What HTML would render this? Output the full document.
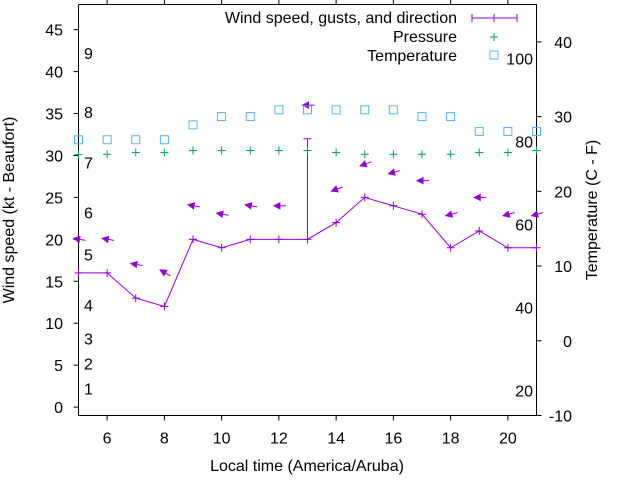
<!DOCTYPE html>
<html><head><meta charset="utf-8"><style>
body{margin:0;background:#fff}
svg text{font-family:"Liberation Sans",sans-serif;font-size:16px;fill:#000}
</style></head><body>
<svg id="chart" width="640" height="480" xmlns="http://www.w3.org/2000/svg">
<g id="axes"></g>
<g id="series"></g>
<text x="14" y="210" text-anchor="middle" transform="rotate(-90 14 210)">Wind speed (kt - Beaufort)</text>
<text x="597" y="210" text-anchor="middle" transform="rotate(-90 597 210)">Temperature (C - F)</text>
<text x="307" y="471" text-anchor="middle">Local time (America/Aruba)</text>
<g>
<text x="457" y="23" text-anchor="end">Wind speed, gusts, and direction</text>
<g stroke="#9400d3"><line x1="472" y1="18" x2="517" y2="18"/><line x1="472" y1="14" x2="472" y2="22"/><line x1="517" y1="14" x2="517" y2="22"/><line x1="494" y1="14" x2="494" y2="22"/></g>
<text x="457" y="42" text-anchor="end">Pressure</text>
<g stroke="#009e73"><line x1="490" y1="37" x2="498" y2="37"/><line x1="494" y1="33" x2="494" y2="41"/></g>
<text x="457" y="61" text-anchor="end">Temperature</text>
<rect x="490" y="51" width="8" height="8" fill="none" stroke="#56b4e9"/>
</g>
</svg>
<script>
const hours=[5,6,7,8,9,10,11,12,13,14,15,16,17,18,19,20,21];
const windSpeed=[16,16,13,12,20,19,20,20,20,22,25,24,23,19,21,19,19];
const gusts=[20,20,17,16,24,23,24,24,36,26,29,28,27,23,25,23,23];
const windDir=[100,100,100,120,100,100,100,90,90,70,70,75,90,75,90,75,75];
const pressure=[30.1,30.15,30.35,30.35,30.6,30.6,30.6,30.6,30.6,30.35,30.15,30.15,30.15,30.15,30.35,30.35,30.6];
const temperature=[26.9,26.9,26.9,26.9,28.9,30,30,30.9,30.9,30.9,30.9,30.9,30,30,28,28,28];
const xTicks=[6,8,10,12,14,16,18,20];
const yTicks=[0,5,10,15,20,25,30,35,40,45];
const y2Ticks=[-10,0,10,20,30,40];
const beaufort=[1,2,3,4,5,6,7,8,9];
const beaufortKt=[1,4,7,11,17,22,28,34,41];
const fahrenheit=[20,40,60,80,100];
const errBarHour=13, errBarTop=32;

const L=78.5,R=536.5,T=4.5,B=415.5;
const X=h=>L+(h-5)/(21-5)*(R-L);
const Y=v=>B-(v+1)/(48+1)*(B-T);
const Y2=c=>B-(c+10)/(45+10)*(B-T);
const NS='http://www.w3.org/2000/svg';
function mk(p,tag,a){const e=document.createElementNS(NS,tag);for(const k in a)e.setAttribute(k,a[k]);p.appendChild(e);return e;}
const ax=document.getElementById('axes'),se=document.getElementById('series');
let e=mk(ax,'path',{d:`M${L},${T}V${B}H${R}V${T}H${L}`,fill:'none',stroke:'#000'});


xTicks.forEach(h=>{const x=X(h);
 let t=mk(ax,'path',{d:`M${x},${B}v5M${x},${T}v-5`,stroke:'#000'});
 
 
 t=mk(ax,'text',{x:x,y:B+28,'text-anchor':'middle'});t.textContent=h;
 
 });
yTicks.forEach(v=>{const y=Y(v);
 let t=mk(ax,'path',{d:`M${L},${y}h-5`,stroke:'#000'});
 
 
 t=mk(ax,'text',{x:63,y:y+6,'text-anchor':'end'});t.textContent=v;
 
 });
y2Ticks.forEach(v=>{const y=Y2(v);
 let t=mk(ax,'path',{d:`M${R},${y}h5`,stroke:'#000'});
 
 
 t=mk(ax,'text',{x:572,y:y+6,'text-anchor':'end'});t.textContent=v;
 
 });
beaufort.forEach((b,i)=>{let t=mk(ax,'text',{x:84,y:Y(beaufortKt[i])-4});t.textContent=b;
 
 });
fahrenheit.forEach(f=>{let t=mk(ax,'text',{x:533,y:Y2((f-32)*5/9)+6,'text-anchor':'end'});t.textContent=f;
 
 });
// wind line
let d='';hours.forEach((h,i)=>{d+=(i?'L':'M')+X(h)+','+Y(windSpeed[i]);});
e=mk(se,'path',{d:d,fill:'none',stroke:'#9400d3'});


hours.forEach((h,i)=>{const x=X(h),y=Y(windSpeed[i]);
 let m=mk(se,'path',{d:`M${x-4},${y}h8M${x},${y-4}v8`,stroke:'#9400d3'});
 
 });
{const i=hours.indexOf(errBarHour),x=X(errBarHour);
 e=mk(se,'path',{d:`M${x},${Y(windSpeed[i])}V${Y(errBarTop)}M${x-4},${Y(errBarTop)}h8`,stroke:'#9400d3'});
 
 }
// gust arrows
hours.forEach((h,i)=>{const cx=X(h)+1,cy=Y(gusts[i]),r=windDir[i]*Math.PI/180;
 const ux=-Math.sin(r),uy=Math.cos(r);
 const hx=cx+ux*6,hy=cy+uy*6,tx=cx-ux*6,ty=cy-uy*6;
 const px=-uy,py=ux;
 const g=mk(se,'g',{});
 
 
 mk(g,'line',{x1:tx,y1:ty,x2:hx,y2:hy,stroke:'#9400d3'});
 mk(g,'path',{d:`M${hx},${hy}L${hx-ux*6+px*3},${hy-uy*6+py*3}L${hx-ux*6-px*3},${hy-uy*6-py*3}Z`,fill:'#9400d3',stroke:'#9400d3'});});
hours.forEach((h,i)=>{const x=X(h),y=Y(pressure[i]);
 let m=mk(se,'path',{d:`M${x-4},${y}h8M${x},${y-4}v8`,stroke:'#009e73'});
 
 });
hours.forEach((h,i)=>{const x=X(h),y=Y2(temperature[i]);
 let m=mk(se,'rect',{x:x-4,y:y-4,width:8,height:8,fill:'none',stroke:'#56b4e9'});
 
 });
</script>
</body></html>
